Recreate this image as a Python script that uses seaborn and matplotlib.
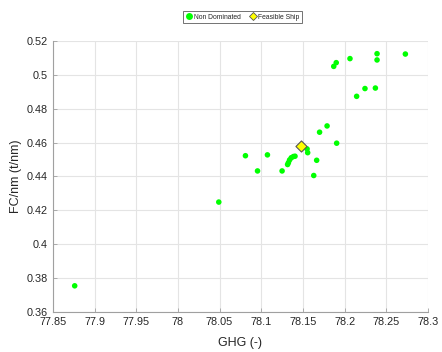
import matplotlib
matplotlib.use("Agg")
import matplotlib.pyplot as plt
import seaborn as sns
import pandas as pd
from matplotlib.lines import Line2D

# Non-dominated design points: greenhouse-gas index vs fuel consumption per nm
ghg = [77.876, 78.049, 78.081, 78.0955, 78.1074, 78.125, 78.1316, 78.1326,
       78.1340, 78.1360, 78.1385, 78.1405, 78.155, 78.1557, 78.163, 78.1665,
       78.170, 78.179, 78.1905, 78.187, 78.190, 78.2065, 78.239, 78.239,
       78.273, 78.2145, 78.2245, 78.237]
fc = [0.3753, 0.4248, 0.4522, 0.4432, 0.4527, 0.4432, 0.4470, 0.4481,
      0.4497, 0.4510, 0.4517, 0.4519, 0.4562, 0.4540, 0.4405, 0.4495,
      0.4661, 0.4698, 0.4596, 0.5050, 0.5072, 0.5096, 0.5125, 0.5088,
      0.5123, 0.4873, 0.4919, 0.4922]

# Feasible ship
ship_ghg = [78.1474]
ship_fc = [0.4582]

x_ticks = [77.85, 77.9, 77.95, 78, 78.05, 78.1, 78.15, 78.2, 78.25, 78.3]
x_ticklabels = ["77.85", "77.9", "77.95", "78", "78.05", "78.1", "78.15", "78.2", "78.25", "78.3"]
y_ticks = [0.36, 0.38, 0.4, 0.42, 0.44, 0.46, 0.48, 0.5, 0.52]
y_ticklabels = ["0.36", "0.38", "0.4", "0.42", "0.44", "0.46", "0.48", "0.5", "0.52"]

sns.set_theme(style="white")
plt.rcParams["font.family"] = ["Liberation Sans", "DejaVu Sans"]

fig = plt.figure(figsize=(4.42, 3.52), dpi=100)
ax = fig.add_axes([0.12, 0.1145, 0.848, 0.769])

front = pd.DataFrame({"GHG": ghg, "FC": fc})
ship = pd.DataFrame({"GHG": ship_ghg, "FC": ship_fc})

sns.scatterplot(data=front, x="GHG", y="FC", ax=ax, color="#00ff00",
                s=16, edgecolor="none", zorder=3)
sns.scatterplot(data=ship, x="GHG", y="FC", ax=ax, color="#ffff00",
                marker="D", s=32, edgecolor="#555555", linewidth=0.8, zorder=4)

ax.set_xlim(77.85, 78.3)
ax.set_ylim(0.36, 0.52)
ax.set_xticks(x_ticks)
ax.set_xticklabels(x_ticklabels)
ax.set_yticks(y_ticks)
ax.set_yticklabels(y_ticklabels)

ax.grid(True, color="#e4e4e4", linewidth=0.8)
ax.set_axisbelow(True)
for side in ("top", "right"):
    ax.spines[side].set_visible(False)
for side in ("left", "bottom"):
    ax.spines[side].set_color("#a0a0a0")
    ax.spines[side].set_linewidth(0.8)

ax.tick_params(axis="both", direction="in", length=3, width=0.6,
               color="#a0a0a0", labelsize=7.8, labelcolor="#262626",
               bottom=True, left=True)
ax.tick_params(axis="x", pad=4)
ax.tick_params(axis="y", pad=4)

ax.set_xlabel("GHG (-)", fontsize=9, color="#262626", labelpad=7)
ax.set_ylabel("FC/nm (t/nm)", fontsize=9, color="#262626", labelpad=3)

handles = [
    Line2D([], [], marker="o", linestyle="none", markerfacecolor="#00ff00",
           markeredgecolor="none", markersize=5, label="Non Dominated"),
    Line2D([], [], marker="D", linestyle="none", markerfacecolor="#ffff00",
           markeredgecolor="#555555", markeredgewidth=0.6, markersize=4.5,
           label="Feasible Ship"),
]
leg = fig.legend(handles=handles, loc="center", bbox_to_anchor=(0.548, 0.951),
                 ncol=2, fontsize=4.9, frameon=True, fancybox=False,
                 handlelength=1.0, handletextpad=0.3, columnspacing=1.2,
                 borderpad=0.35, borderaxespad=0)
leg.get_frame().set_edgecolor("#333333")
leg.get_frame().set_linewidth(0.6)

fig.savefig("out.png", dpi=100)
